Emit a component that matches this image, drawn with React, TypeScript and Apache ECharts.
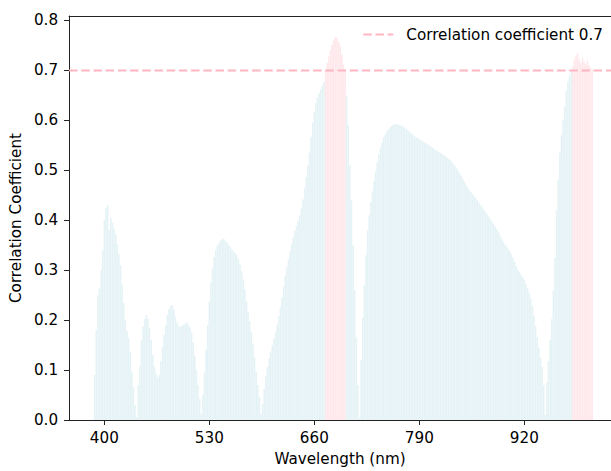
import React, { useEffect, useRef } from "react";
import * as echarts from "echarts";

// Wavelength grid: first band starts at 388 nm, 2 nm spacing
const startWavelength = 388;
const stepNm = 2;

// Correlation coefficient, 388–598 nm
const correlationVisible = [
  0.09, 0.18, 0.25, 0.263, 0.3, 0.34,
  0.4, 0.424, 0.43, 0.38, 0.405, 0.395, 0.383, 0.372, 0.353, 0.333,
  0.31, 0.272, 0.235, 0.2, 0.178, 0.164, 0.136, 0.097, 0.066, 0.03,
  0.006, 0.07, 0.107, 0.16, 0.187, 0.202, 0.21, 0.202, 0.185, 0.16,
  0.13, 0.107, 0.093, 0.085, 0.09, 0.118, 0.146, 0.17, 0.19, 0.21,
  0.222, 0.228, 0.23, 0.222, 0.207, 0.195, 0.188, 0.186, 0.188, 0.19,
  0.193, 0.196, 0.19, 0.185, 0.175, 0.155, 0.128, 0.1, 0.07, 0.042,
  0.012, 0.05, 0.095, 0.14, 0.19, 0.237, 0.275, 0.303, 0.326, 0.34,
  0.349, 0.355, 0.36, 0.362, 0.363, 0.359, 0.355, 0.351, 0.347, 0.342,
  0.337, 0.334, 0.33, 0.322, 0.312, 0.298, 0.282, 0.262, 0.238, 0.218,
  0.198, 0.176, 0.151, 0.125, 0.096, 0.07, 0.046, 0.012, 0.032, 0.062,
];

// Correlation coefficient, 600–798 nm
const correlationRed = [
  0.087, 0.106, 0.123, 0.137, 0.15, 0.162, 0.175, 0.191, 0.208, 0.226,
  0.245, 0.267, 0.289, 0.306, 0.322, 0.338, 0.353, 0.366, 0.379, 0.389,
  0.399, 0.41, 0.424, 0.442, 0.464, 0.487, 0.509, 0.535, 0.567, 0.595,
  0.617, 0.635, 0.646, 0.655, 0.662, 0.669, 0.678, 0.702, 0.715, 0.728,
  0.741, 0.751, 0.76, 0.767, 0.765, 0.758, 0.75, 0.732, 0.712, 0.702,
  0.65, 0.59, 0.51, 0.44, 0.35, 0.26, 0.165, 0.07, 0.005, 0.12,
  0.205, 0.27, 0.33, 0.38, 0.41, 0.436, 0.458, 0.479, 0.498, 0.516,
  0.532, 0.546, 0.556, 0.566, 0.572, 0.578, 0.582, 0.586, 0.589, 0.591,
  0.592, 0.592, 0.591, 0.59, 0.589, 0.587, 0.585, 0.582, 0.58, 0.577,
  0.573, 0.571, 0.568, 0.566, 0.564, 0.562, 0.56, 0.558, 0.556, 0.554,
];

// Correlation coefficient, 800–1004 nm
const correlationNir = [
  0.552, 0.55, 0.548, 0.546, 0.543, 0.541, 0.539, 0.537, 0.535, 0.533,
  0.531, 0.528, 0.526, 0.523, 0.52, 0.517, 0.513, 0.509, 0.505, 0.499,
  0.494, 0.489, 0.482, 0.476, 0.47, 0.464, 0.46, 0.456, 0.452, 0.448,
  0.444, 0.44, 0.435, 0.43, 0.426, 0.421, 0.416, 0.412, 0.407, 0.402,
  0.397, 0.392, 0.387, 0.382, 0.376, 0.37, 0.363, 0.357, 0.352, 0.347,
  0.343, 0.338, 0.332, 0.325, 0.317, 0.308, 0.301, 0.296, 0.291, 0.286,
  0.281, 0.273, 0.264, 0.255, 0.243, 0.228, 0.209, 0.188, 0.166, 0.144,
  0.125, 0.106, 0.07, 0.01, 0.075, 0.118, 0.16, 0.202, 0.26, 0.325,
  0.42, 0.48, 0.535, 0.57, 0.6, 0.628, 0.66, 0.678, 0.69, 0.698,
  0.708, 0.722, 0.73, 0.735, 0.722, 0.715, 0.725, 0.718, 0.712, 0.72,
  0.71, 0.705, 0.702,
];

const threshold = 0.7;
const thresholdLabel = "Correlation coefficient 0.7";
const xTickValues = [400, 530, 660, 790, 920];
const yTickValues = [0, 0.1, 0.2, 0.3, 0.4, 0.5, 0.6, 0.7, 0.8];
const xAxisTitle = "Wavelength (nm)";
const yAxisTitle = "Correlation Coefficient";

const X_MIN = 356.3;
const X_MAX = 1027.3;
const Y_MAX = 0.809;

const BLUE = "#e6f3f6";
const PINK = "#ffe8ec";
const LINE_PINK = "#ffb6c1";
const FONT = "DejaVu Sans";
const FS = 15.2;

export default function App() {
  const ref = useRef<HTMLDivElement>(null);

  useEffect(() => {
    if (!ref.current) return;
    const chart = echarts.init(ref.current, undefined, { renderer: "svg" });
    const correlation = [...correlationVisible, ...correlationRed, ...correlationNir];
    const barData = correlation.map((v, i) => [startWavelength + i * stepNm, v]);

    chart.setOption({
      animation: false,
      backgroundColor: "#ffffff",
      textStyle: { fontFamily: FONT },
      grid: { left: 69, right: 0, top: 16, bottom: 46, containLabel: false },
      legend: {
        data: [thresholdLabel],
        right: 3,
        top: 22,
        itemWidth: 30,
        itemHeight: 14,
        itemStyle: { opacity: 0, color: "transparent", borderWidth: 0 },
        textStyle: { fontSize: FS, color: "#000", fontFamily: FONT, padding: [0, 0, 0, 8] },
      },
      xAxis: [
        {
          type: "value",
          min: X_MIN,
          max: X_MAX,
          name: xAxisTitle,
          nameLocation: "middle",
          nameGap: 31,
          nameTextStyle: { fontSize: FS, color: "#000", fontFamily: FONT },
          axisLine: { show: true, onZero: false, lineStyle: { color: "#222", width: 1 } },
          axisTick: { show: true, length: 5, customValues: xTickValues, lineStyle: { color: "#222" } },
          axisLabel: { customValues: xTickValues, fontSize: FS, color: "#000", fontFamily: FONT, margin: 10 },
          splitLine: { show: false },
        },
        {
          type: "value",
          position: "top",
          min: X_MIN,
          max: X_MAX,
          axisLine: { show: true, onZero: false, lineStyle: { color: "#222", width: 1 } },
          axisTick: { show: false },
          axisLabel: { show: false },
          splitLine: { show: false },
        },
      ],
      yAxis: {
        type: "value",
        min: 0,
        max: Y_MAX,
        name: yAxisTitle,
        nameLocation: "middle",
        nameGap: 40,
        nameTextStyle: { fontSize: FS, color: "#000", fontFamily: FONT },
        axisLine: { show: true, lineStyle: { color: "#222", width: 1 } },
        axisTick: { show: true, length: 5, customValues: yTickValues, lineStyle: { color: "#222" } },
        axisLabel: {
          customValues: yTickValues,
          fontSize: FS,
          color: "#000",
          fontFamily: FONT,
          margin: 11,
          formatter: (v: number) => v.toFixed(1),
        },
        splitLine: { show: false },
      },
      series: [
        {
          type: "bar",
          data: barData,
          barWidth: "100%",
          itemStyle: {
            color: (p: any) => (p.value[1] > threshold ? PINK : BLUE),
          },
        },
        {
          type: "line",
          name: thresholdLabel,
          data: [
            [X_MIN, threshold],
            [X_MAX, threshold],
          ],
          symbol: "none",
          lineStyle: { color: LINE_PINK, width: 2, type: [8.5, 3.7] },
          itemStyle: { color: LINE_PINK },
          z: 5,
        },
      ],
    });

    return () => chart.dispose();
  }, []);

  return (
    <div
      ref={ref}
      style={{ position: "fixed", left: 0, top: 0, width: 611, height: 471, background: "#fff" }}
    />
  );
}
